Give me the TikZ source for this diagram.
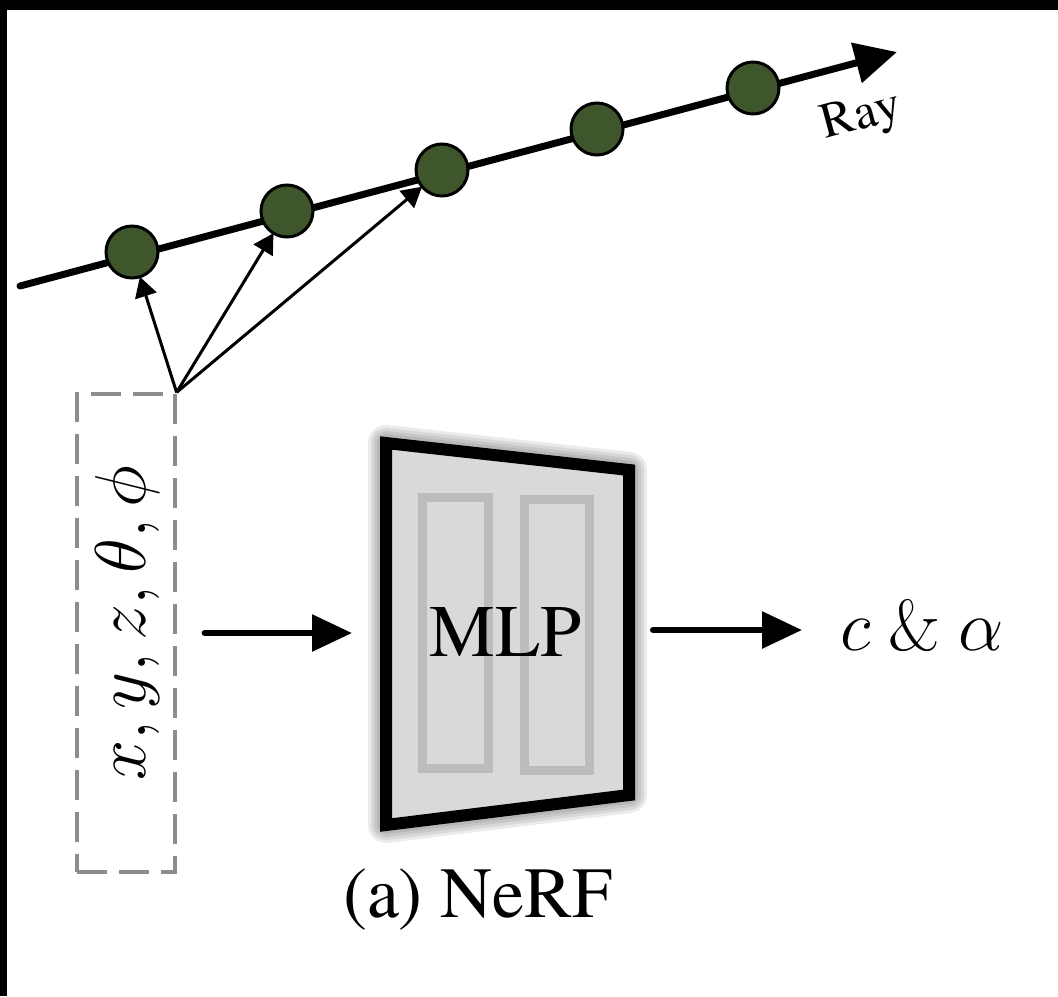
\documentclass[tikz,border=0pt]{standalone}
\usepackage{fix-cm}
\usepackage[T1]{fontenc}
\renewcommand{\rmdefault}{ptm}
\usetikzlibrary{arrows.meta}
\definecolor{sample color}{HTML}{3F552B}
\definecolor{dash color}{HTML}{8C8C8C}
\definecolor{mlp fill}{HTML}{D9D9D9}
\definecolor{layer color}{HTML}{BCBCBC}
\tikzset{
    x={0.5pt},
    y={-0.5pt},
    ray/.style={
        draw=black,
        line width={3.5pt},
        line cap=round,
        -{Triangle[length=21pt,width=20pt]},
    },
    sample point/.style={
        circle, fill=sample color, draw=black,
        line width={1.5pt},
        inner sep=0pt, outer sep=0pt,
        minimum size={26pt},
    },
    feed/.style={
        draw=black,
        line width={1.5pt},
        -{Triangle[length=10pt,width=11pt]},
    },
    flow/.style={
        draw=black,
        line width={3pt},
        line cap=round,
        -{Triangle[length=20pt,width=18pt]},
    },
    input box/.style={
        draw=dash color,
        dash pattern=on 15pt off 6pt,
        line width={1.6pt},
        inner sep=0pt,
        minimum width={49pt},
        minimum height={239pt},
    },
    mlp glow/.style={
        draw=black, opacity=0.08,
        line width={#1},
        line join=round,
    },
    mlp body/.style={
        fill=mlp fill, draw=black,
        line width={6pt},
        line join=miter,
    },
    mlp layer/.style={
        draw=layer color,
        line width={4.5pt},
    },
    big label/.style={
        font={\fontsize{36}{40}\selectfont},
        inner sep=0pt,
    },
    ray label/.style={
        font={\fontsize{25}{28}\selectfont},
        rotate=15,
        inner sep=0pt,
    },
}

\begin{document}
\begin{tikzpicture}
% frame
\useasboundingbox (0,0) rectangle (1058,996);
\fill[black] (0,0) rectangle (1058,996);
\fill[white] (7,10) rectangle (1058,996);
% ray
\coordinate (ray start) at (20,286);
\coordinate (ray end) at (897,52);
\draw[ray] (ray start) -- (ray end);
\node[ray label] (raylabel) at (862,118) {Ray};
% samples
\foreach \name/\px/\py in {p1/132/252, p2/287/211, p3/442/170, p4/597/129, p5/753/88}
    \node[sample point] (\name) at (\px,\py) {};
% input
\node[input box] (inbox) at (126,633) {};
\node[big label, rotate=90] (invars) at (127,623) {$x, y, z, \theta, \phi$};
\foreach \p in {p1,p2,p3}
    \draw[feed] (inbox.north east) -- (\p);
% mlp
\coordinate (mlp tl) at (386,443);
\coordinate (mlp tr) at (629,470);
\coordinate (mlp br) at (629,795);
\coordinate (mlp bl) at (386,825);
\coordinate (mlp left) at (380,633);
\coordinate (mlp right) at (635,630);
\foreach \w in {18pt,15pt,12pt,9pt}
    \path[mlp glow=\w] (mlp tl) -- (mlp tr) -- (mlp br) -- (mlp bl) -- cycle;
\path[mlp body] (mlp tl) -- (mlp tr) -- (mlp br) -- (mlp bl) -- cycle;
\draw[mlp layer] (422.5,497.5) rectangle (488.5,768.5);
\draw[mlp layer] (524.5,499.5) rectangle (589.5,770.5);
\node[big label, font={\fontsize{37}{40}\selectfont}] (mlp) at (506,632) {MLP};
% output
\node[big label, anchor=base west] (out) at (840,650) {$c\ \&\ \alpha$};
\draw[flow] ([xshift=14pt]inbox.east) -- ([xshift=-14pt]mlp left);
\draw[flow] ([xshift=9pt]mlp right) -- ([xshift=-19pt]mlp right -| out.west);
% caption
\node[big label] (caption) at (478,900) {(a) NeRF};
\end{tikzpicture}
\end{document}
